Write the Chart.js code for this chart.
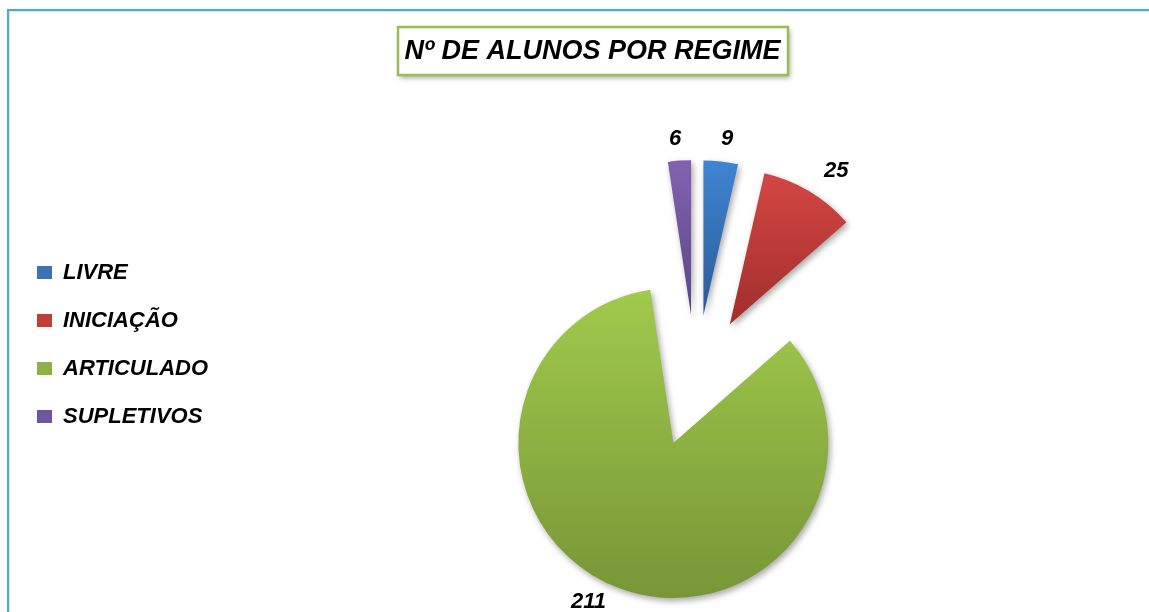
<!DOCTYPE html>
<html>
<head>
<meta charset="utf-8">
<script src="https://cdn.jsdelivr.net/npm/chart.js@4/dist/chart.umd.min.js"></script>
<style>
html, body { margin: 0; padding: 0; background: #ffffff; overflow: hidden; width: 1149px; height: 612px; }
#frame { position: absolute; left: 7px; top: 9px; width: 1400px; height: 900px;
  border-left: 2px solid #4bacc6; border-top: 2px solid #4bacc6; box-shadow: inset 1px 1px 0 #d3ecf2; }
#wrap { position: absolute; left: 0; top: 0; width: 1200px; height: 700px; }
</style>
</head>
<body>
<div id="frame"></div>
<div id="wrap"><canvas id="c"></canvas></div>
<script>
// ---- data ----
const TITLE = 'Nº DE ALUNOS POR REGIME';
const categories = ['LIVRE', 'INICIAÇÃO', 'ARTICULADO', 'SUPLETIVOS'];
const students = [9, 25, 211, 6];

// ---- styles ----
const baseColors  = ['#3b72b8', '#c23c38', '#8db146', '#7056a0'];
const lightColors = ['#3f84d4', '#d34643', '#a1ca4c', '#8262b0'];
const darkColors  = ['#2c5b96', '#a12e2c', '#779636', '#5c4485'];
const FONT = "'Liberation Sans', Arial, sans-serif";

const explodePlugin = {
  id: 'explode',
  afterDatasetsUpdate(chart, args, opts) {
    const meta = chart.getDatasetMeta(0);
    const c = chart.ctx;
    meta.data.forEach((el, i) => {
      const mid = (el.startAngle + el.endAngle) / 2;
      el.x += Math.cos(mid) * opts.distance;
      el.y += Math.sin(mid) * opts.distance;
      const R = el.outerRadius;
      const ys = [el.y, el.y + Math.sin(el.startAngle) * R, el.y + Math.sin(el.endAngle) * R];
      const contains = a => { let t = a; while (t < el.startAngle) t += 2 * Math.PI; return t <= el.endAngle; };
      if (contains(Math.PI / 2)) ys.push(el.y + R);
      if (contains(-Math.PI / 2)) ys.push(el.y - R);
      const g = c.createLinearGradient(0, Math.min(...ys), 0, Math.max(...ys));
      g.addColorStop(0, lightColors[i]);
      g.addColorStop(1, darkColors[i]);
      el.options = Object.assign({}, el.options, { backgroundColor: g });
    });
  }
};

const shadowPlugin = {
  id: 'sliceShadow',
  beforeDatasetsDraw(chart) {
    const c = chart.ctx;
    c.save();
    c.shadowColor = 'rgba(0,0,0,0.35)';
    c.shadowBlur = 6;
    c.shadowOffsetX = 2;
    c.shadowOffsetY = 3;
  },
  afterDatasetsDraw(chart) { chart.ctx.restore(); }
};

const valueLabels = {
  id: 'valueLabels',
  afterDraw(chart, args, opts) {
    const meta = chart.getDatasetMeta(0);
    const c = chart.ctx;
    c.save();
    c.font = 'italic bold ' + opts.size + 'px ' + FONT;
    c.fillStyle = '#000';
    c.textAlign = 'center';
    c.textBaseline = 'alphabetic';
    meta.data.forEach((el, i) => {
      const mid = (el.startAngle + el.endAngle) / 2 + (opts.nudge[i] || 0) * Math.PI / 180;
      const d = el.outerRadius + opts.gap[i];
      const x = el.x + Math.cos(mid) * d;
      const y = el.y + Math.sin(mid) * d + opts.size * 0.716 / 2;
      c.fillText(String(chart.data.datasets[0].data[i]), x, y);
    });
    c.restore();
  }
};

const titleBox = {
  id: 'titleBox',
  beforeDraw(chart, args, opts) {
    const tb = chart.titleBlock;
    if (!tb) return;
    const t = chart.options.plugins.title;
    const c = chart.ctx;
    c.save();
    c.font = 'italic bold ' + t.font.size + 'px ' + t.font.family;
    const w = c.measureText(t.text).width + 2 * opts.padX;
    const cx = (tb.left + tb.right) / 2;
    const cy = tb.top + t.padding.top + t.font.size * 1.2 / 2;
    const x = Math.round(cx - w / 2), y = Math.round(cy - opts.height / 2 + opts.shiftY);
    c.shadowColor = 'rgba(0,0,0,0.35)';
    c.shadowBlur = 5;
    c.shadowOffsetX = 2;
    c.shadowOffsetY = 3;
    c.fillStyle = '#fff';
    c.fillRect(x, y, Math.round(w), opts.height);
    c.shadowColor = 'transparent';
    c.strokeStyle = '#9bbb59';
    c.lineWidth = 2.5;
    c.strokeRect(x, y, Math.round(w), opts.height);
    c.restore();
  }
};

new Chart(document.getElementById('c'), {
  type: 'pie',
  data: {
    labels: categories,
    datasets: [{
      data: students,
      backgroundColor: (ctx) => baseColors[ctx.dataIndex],
      borderWidth: 0
    }]
  },
  options: {
    responsive: true,
    maintainAspectRatio: false,
    animation: false,
    events: [],
    radius: 155,
    layout: { padding: { left: 11, right: 26, top: 0, bottom: 11 } },
    plugins: {
      title: {
        display: true,
        text: TITLE,
        color: '#000',
        font: { family: FONT, size: 27, style: 'italic', weight: 'bold' },
        padding: { top: 35.6, bottom: 5.0 }
      },
      legend: {
        position: 'left',
        align: 'center',
        labels: {
          boxWidth: 15,
          boxHeight: 13,
          padding: 26,
          color: '#000',
          font: { family: FONT, size: 22, style: 'italic', weight: 'bold' }
        }
      },
      tooltip: { enabled: false },
      explode: { distance: 66 },
      valueLabels: { size: 22, gap: [25, 33, 23.5, 24], nudge: [1.1, 3.6, 8.3, -0.8] },
      titleBox: { padX: 7, height: 48, shiftY: -0.8 }
    }
  },
  plugins: [titleBox, explodePlugin, shadowPlugin, valueLabels]
});
</script>
</body>
</html>
